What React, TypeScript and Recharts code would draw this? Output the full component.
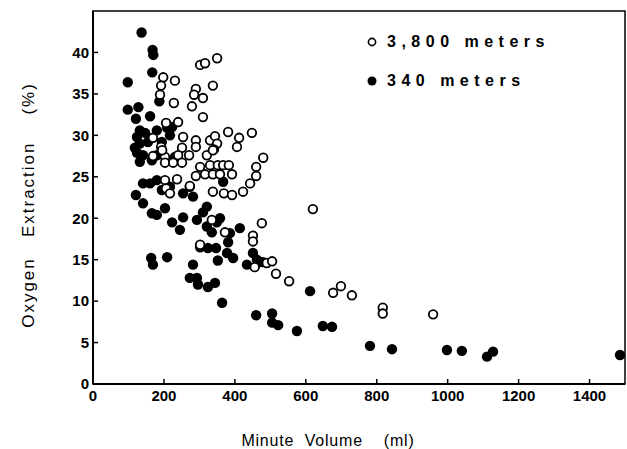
import * as React from "react";
import {
  Label,
  ReferenceArea,
  Scatter,
  ScatterChart,
  XAxis,
  YAxis,
} from "recharts";

// minute volume (ml), oxygen extraction (%)
const HIGH_ALTITUDE: [number, number][] = [
  [198, 37.0], [231, 36.6], [192, 36.0], [189, 34.9], [302, 38.5], [316, 38.7],
  [350, 39.3], [290, 35.6], [285, 34.9], [310, 34.5], [338, 36.0], [228, 33.9],
  [279, 33.5], [206, 31.5], [240, 31.6], [310, 32.2], [381, 30.4], [412, 29.7],
  [448, 30.3], [254, 29.8], [290, 29.4], [330, 29.4], [344, 29.9], [350, 29.0],
  [290, 28.6], [251, 28.5], [341, 28.3], [406, 28.6], [169, 29.7], [192, 28.6],
  [169, 27.5], [203, 27.4], [271, 27.6], [321, 27.6], [480, 27.3], [195, 28.2],
  [240, 27.6], [338, 28.2], [203, 26.7], [226, 26.7], [251, 26.7], [302, 26.2],
  [330, 26.4], [352, 26.4], [367, 26.4], [383, 26.4], [460, 26.2], [290, 25.1],
  [316, 25.3], [338, 25.3], [358, 25.3], [392, 25.3], [460, 25.1], [443, 24.2],
  [203, 24.6], [237, 24.7], [206, 23.6], [217, 23.0], [273, 23.9], [338, 23.2],
  [369, 23.0], [392, 22.8], [423, 23.2], [335, 19.8], [476, 19.4], [372, 18.3],
  [451, 17.9], [451, 17.2], [302, 16.8], [456, 14.1], [490, 14.6], [620, 21.1],
  [505, 14.8], [516, 13.3], [553, 12.4], [677, 11.0], [699, 11.8], [730, 10.7],
  [817, 9.2], [817, 8.5], [959, 8.4],
];

const LOW_ALTITUDE: [number, number][] = [
  [137, 42.4], [168, 40.3], [170, 39.7], [167, 37.6], [98, 36.4], [187, 34.1],
  [98, 33.1], [128, 33.4], [121, 32.0], [161, 32.3], [132, 30.6], [124, 29.8],
  [147, 30.3], [155, 29.2], [124, 27.9], [141, 27.6], [180, 30.6], [209, 30.9],
  [223, 31.0], [217, 30.0], [194, 29.2], [231, 27.4], [132, 29.0], [118, 28.5],
  [132, 26.8], [166, 27.0], [180, 27.6], [367, 24.4], [121, 22.8], [141, 21.8],
  [166, 20.6], [180, 20.4], [203, 21.2], [194, 23.4], [161, 24.2], [141, 24.2],
  [180, 24.6], [217, 23.8], [223, 19.5], [245, 18.6], [254, 20.1], [273, 23.8],
  [254, 23.0], [282, 22.6], [293, 19.8], [310, 20.7], [321, 19.0], [335, 18.3],
  [321, 21.4], [358, 20.0], [349, 19.5], [414, 18.8], [386, 18.2], [381, 17.1],
  [302, 16.5], [324, 16.4], [347, 16.4], [378, 15.8], [395, 15.2], [352, 14.9],
  [164, 15.2], [169, 14.4], [209, 15.3], [282, 14.4], [273, 12.8], [293, 12.8],
  [296, 12.0], [324, 11.7], [344, 12.2], [364, 9.8], [434, 14.4], [451, 15.8],
  [462, 15.0], [479, 14.7], [471, 14.7], [460, 8.3], [505, 8.5], [505, 7.4],
  [522, 7.1], [575, 6.4], [612, 11.2], [648, 7.0], [674, 6.9], [781, 4.6],
  [843, 4.2], [998, 4.1], [1040, 4.0], [1111, 3.3], [1128, 3.9], [1486, 3.5],
];

const X_TICKS = [0, 200, 400, 600, 800, 1000, 1200, 1400];
const Y_TICKS = [0, 5, 10, 15, 20, 25, 30, 35, 40];
const SERIES_NAMES = ["3,800 meters", "340 meters"];

const FONT = "'Liberation Sans', Arial, sans-serif";

const toPoints = (rows: [number, number][]) => rows.map(([x, y]) => ({ x, y }));

function OpenDot(props: any) {
  const { cx, cy } = props;
  if (cx == null || cy == null) return null;
  return <circle cx={cx} cy={cy} r={4.3} fill="#fff" stroke="#000" strokeWidth={1.8} />;
}

function FilledDot(props: any) {
  const { cx, cy } = props;
  if (cx == null || cy == null) return null;
  return <circle cx={cx} cy={cy} r={5.2} fill="#000" />;
}

// drawn as an overlay: a Recharts <Legend> would steal height from the plot
function LegendBox() {
  const rows = [
    { name: SERIES_NAMES[0], filled: false },
    { name: SERIES_NAMES[1], filled: true },
  ];
  return (
    <div style={{ position: "absolute", left: 365, top: 22, fontFamily: FONT }}>
      {rows.map((row) => (
        <div key={row.name} style={{ display: "flex", alignItems: "center", height: 39 }}>
          <svg width={14} height={14} style={{ marginRight: 8 }}>
            {row.filled ? (
              <circle cx={7} cy={7} r={4.5} fill="#000" />
            ) : (
              <circle cx={7} cy={7} r={3.6} fill="#fff" stroke="#000" strokeWidth={1.6} />
            )}
          </svg>
          <span style={{ fontSize: 16, fontWeight: 700, letterSpacing: 5.5, color: "#000" }}>
            {row.name}
          </span>
        </div>
      ))}
    </div>
  );
}

export default function App() {
  const tickStyle = { fill: "#000", fontSize: 15, fontWeight: 700, fontFamily: FONT };
  return (
    <div style={{ position: "absolute", left: 0, top: 0, width: 627, height: 449, background: "#fff" }}>
      <ScatterChart
        width={627}
        height={449}
        margin={{ top: 11, right: 2, bottom: 35, left: 33 }}
      >
        <XAxis
          type="number"
          dataKey="x"
          domain={[0, 1500]}
          ticks={X_TICKS}
          interval={0}
          height={30}
          tickSize={-5}
          tickMargin={11}
          axisLine={{ stroke: "#000", strokeWidth: 2 }}
          tickLine={{ stroke: "#000", strokeWidth: 1.5 }}
          tick={tickStyle}
        >
          <Label
            content={() => (
              <text
                x={328}
                y={446}
                textAnchor="middle"
                fontFamily={FONT}
                fontSize={16}
                letterSpacing={0.8}
                style={{ whiteSpace: "pre" }}
                fill="#000"
              >
                {"Minute  Volume    (ml)"}
              </text>
            )}
          />
        </XAxis>
        <YAxis
          type="number"
          dataKey="y"
          domain={[0, 45]}
          ticks={Y_TICKS}
          interval={0}
          width={60}
          tickSize={-5}
          tickMargin={9}
          axisLine={{ stroke: "#000", strokeWidth: 2 }}
          tickLine={{ stroke: "#000", strokeWidth: 1.5 }}
          tick={tickStyle}
        >
          <Label
            content={() => (
              <text
                x={30}
                y={205}
                transform="rotate(-90 30 205)"
                textAnchor="middle"
                dominantBaseline="middle"
                fontFamily={FONT}
                fontSize={17}
                letterSpacing={2}
                style={{ whiteSpace: "pre" }}
                fill="#000"
              >
                {"Oxygen   Extraction    (%)"}
              </text>
            )}
          />
        </YAxis>
        <ReferenceArea x1={0} x2={1500} y1={0} y2={45} fill="none" stroke="#000" strokeWidth={1.5} />
        <Scatter
          name={SERIES_NAMES[1]}
          data={toPoints(LOW_ALTITUDE)}
          shape={<FilledDot />}
          isAnimationActive={false}
        />
        <Scatter
          name={SERIES_NAMES[0]}
          data={toPoints(HIGH_ALTITUDE)}
          shape={<OpenDot />}
          isAnimationActive={false}
        />
      </ScatterChart>
      <LegendBox />
    </div>
  );
}
